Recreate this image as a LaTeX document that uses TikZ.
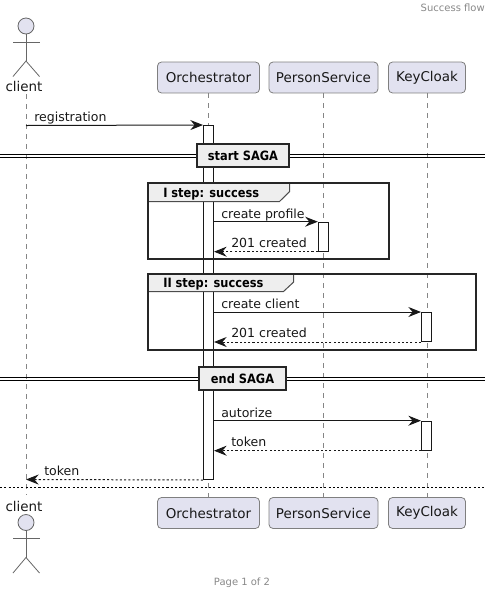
\documentclass[tikz,border=0pt]{standalone}
\usepackage{fontspec}
\setmainfont{DejaVu Sans}
\newfontfamily\narbold[FakeStretch=0.89]{DejaVu Sans}
\usetikzlibrary{arrows.meta}
\definecolor{partfill}{HTML}{E2E2F0}
\definecolor{ink}{HTML}{181818}
\definecolor{grouphead}{HTML}{EEEEEE}
\definecolor{lifegray}{HTML}{858585}
\definecolor{partgray}{HTML}{7F7F7F}
\definecolor{pagegray}{HTML}{888888}
\tikzset{
  x=0.75pt,y=-0.75pt,
  participant/.style={draw=partgray,line width=0.6pt,fill=partfill,rounded corners=3pt,inner sep=0pt,minimum height=23.2pt,font=\fontsize{10.1}{12}\selectfont,text=ink},
  lifeline/.style={draw=lifegray,line width=0.6pt,dash pattern=on 3.75pt off 3.75pt},
  activation/.style={draw=ink,line width=0.75pt,fill=white,inner sep=0pt,minimum width=7.5pt},
  tipopen/.tip={Stealth[length=9.5pt,width=7.5pt,inset=3.2pt,fill=ink]},
  sync/.style={draw=ink,line width=0.75pt,-{tipopen}},
  reply/.style={draw=ink,line width=0.75pt,dash pattern=on 1.6pt off 1.6pt,-{tipopen}},
  msg/.style={font=\fontsize{9.4}{12}\selectfont,text=ink,inner sep=0pt,anchor=base west},
  boldlabel/.style={font=\narbold\bfseries\fontsize{9.6}{12}\selectfont,text=black},
  divbox/.style={boldlabel,draw=black!85,line width=1.5pt,fill=grouphead,inner sep=0pt,minimum height=17pt},
  grp/.style={draw=black!85,line width=1.5pt},
  grptab/.style={draw=black!70,line width=0.75pt,fill=grouphead},
  actor/.style={draw=partgray!80!black,line width=0.6pt},
  actorlabel/.style={font=\fontsize{10.1}{12}\selectfont,text=ink,inner sep=0pt,anchor=base},
  small/.style={font=\fontsize{7.5}{9}\selectfont,text=pagegray,inner sep=0pt},
}
\begin{document}
\begin{tikzpicture}
\useasboundingbox (0,0) rectangle (491,594);
% named anchor points
\coordinate (ctop) at (26,94);
\coordinate (cbot) at (26,495);
% participants
\node[participant,minimum width=76.5pt] (orchT) at (208.5,77.5) {Orchestrator};
\node[participant,minimum width=81.75pt] (persT) at (323.5,77.5) {PersonService};
\node[participant,minimum width=57.75pt] (keyT) at (427,77.5) {KeyCloak};
\node[participant,minimum width=76.5pt] (orchB) at (208.5,513) {Orchestrator};
\node[participant,minimum width=81.75pt] (persB) at (323.5,513) {PersonService};
\node[participant,minimum width=57.75pt] (keyB) at (427,513) {KeyCloak};
% lifelines
\draw[lifeline] (ctop) -- (cbot);
\draw[lifeline] (orchT) -- (orchB);
\draw[lifeline] (persT) -- (persB);
\draw[lifeline] (keyT) -- (keyB);
% actors
\node[actor,circle,fill=partfill,minimum size=12pt,inner sep=0pt] (headT) at (26,26) {};
\coordinate (hipT) at (26,61);
\draw[actor] (headT.south) -- (hipT);
\coordinate (armLT) at (13,42.5); \coordinate (armRT) at (39.5,42.5);
\coordinate (legLT) at (13,76.5); \coordinate (legRT) at (39.5,76.5);
\draw[actor] (armLT) -- (armRT);
\draw[actor] (legLT) -- (hipT) -- (legRT);
\node[actorlabel] (clientT) at (24,91) {client};
\node[actor,circle,fill=partfill,minimum size=12pt,inner sep=0pt] (headB) at (26,522.5) {};
\coordinate (hipB) at (26,557.5);
\draw[actor] (headB.south) -- (hipB);
\coordinate (armLB) at (13,538.5); \coordinate (armRB) at (39.5,538.5);
\coordinate (legLB) at (13,573); \coordinate (legRB) at (39.5,573);
\draw[actor] (armLB) -- (armRB);
\draw[actor] (legLB) -- (hipB) -- (legRB);
\node[actorlabel] (clientB) at (24,511.5) {client};
% orchestrator activation
\node[activation,minimum height=265.5pt] (actO) at (208.5,302.5) {};
% dividers
\coordinate (d1L) at (0,154.5); \coordinate (d1R) at (485,154.5);
\coordinate (d1Lb) at (0,157.2); \coordinate (d1Rb) at (485,157.2);
\draw[draw=black,line width=0.75pt] (d1L) -- (d1R);
\draw[draw=black,line width=0.75pt] (d1Lb) -- (d1Rb);
\node[divbox,minimum width=69pt] (startS) at (243,155.5) {start SAGA};
\coordinate (d2L) at (0,377.5); \coordinate (d2R) at (485,377.5);
\coordinate (d2Lb) at (0,380.2); \coordinate (d2Rb) at (485,380.2);
\draw[draw=black,line width=0.75pt] (d2L) -- (d2R);
\draw[draw=black,line width=0.75pt] (d2Lb) -- (d2Rb);
\node[divbox,minimum width=65pt] (endS) at (242.5,378.5) {end SAGA};
% groups
\draw[grptab] (148,183) -- (289.7,183) -- (289.7,191.5) -- (279.5,201.5) -- (148,201.5) -- cycle;
\draw[grp] (148,183) rectangle (388.5,259);
\node[msg,boldlabel] (g1) at (163,197) {I step: success};
\draw[grptab] (148,273.5) -- (293.7,273.5) -- (293.7,282) -- (283.5,291.5) -- (148,291.5) -- cycle;
\draw[grp] (148,273.5) rectangle (475.5,349.5);
\node[msg,boldlabel] (g2) at (163,287.5) {II step: success};
% activations on services
\node[activation,minimum height=21.75pt] (actP) at (323.3,236.7) {};
\node[activation,minimum height=21.75pt] (actK1) at (426.5,327) {};
\node[activation,minimum height=21.75pt] (actK2) at (426.5,435.7) {};
% messages
\coordinate (m1s) at (26,125.5); \coordinate (m1e) at (actO.north west);
\draw[sync] (m1s) -- (m1e);
\node[msg] (t1) at (34,121) {registration};
\coordinate (m2s) at (actO.east |- actP.north); \coordinate (m2e) at (actP.north west);
\draw[sync] (m2s) -- (m2e);
\node[msg] (t2) at (221,218) {create profile};
\coordinate (m3s) at (actP.south west); \coordinate (m3e) at (actO.east |- actP.south);
\draw[reply] (m3s) -- (m3e);
\node[msg] (t3) at (231,247) {201 created};
\coordinate (m4s) at (actO.east |- actK1.north); \coordinate (m4e) at (actK1.north west);
\draw[sync] (m4s) -- (m4e);
\node[msg] (t4) at (221,308) {create client};
\coordinate (m5s) at (actK1.south west); \coordinate (m5e) at (actO.east |- actK1.south);
\draw[reply] (m5s) -- (m5e);
\node[msg] (t5) at (231,337) {201 created};
\coordinate (m6s) at (actO.east |- actK2.north); \coordinate (m6e) at (actK2.north west);
\draw[sync] (m6s) -- (m6e);
\node[msg] (t6) at (221,417) {autorize};
\coordinate (m7s) at (actK2.south west); \coordinate (m7e) at (actO.east |- actK2.south);
\draw[reply] (m7s) -- (m7e);
\node[msg] (t7) at (231,446) {token};
\coordinate (m8s) at (actO.south west); \coordinate (m8e) at (26,479.5);
\draw[reply] (m8s) -- (m8e);
\node[msg] (t8) at (44,475) {token};
% page break
\coordinate (pbL) at (0,487); \coordinate (pbR) at (485,487);
\draw[draw=black,line width=0.75pt,dash pattern=on 1.6pt off 1.6pt] (pbL) -- (pbR);
% header/footer
\node[small,anchor=base east] (hdr) at (485,11) {Success flow};
\node[small,anchor=base] (ftr) at (242,585) {Page 1 of 2};
\end{tikzpicture}
\end{document}
